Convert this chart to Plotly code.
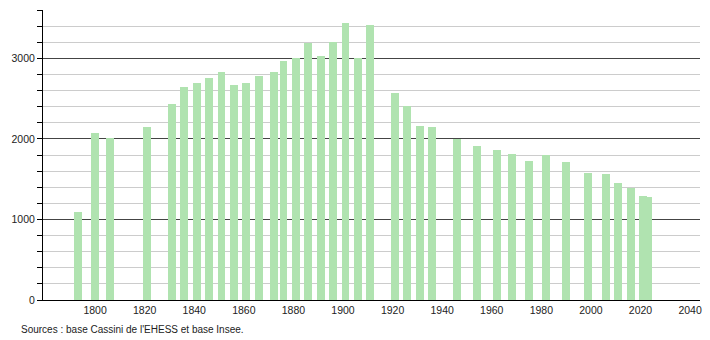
import plotly.graph_objects as go

years = [1793, 1800, 1806, 1821, 1831, 1836, 1841, 1846, 1851, 1856, 1861, 1866,
         1872, 1876, 1881, 1886, 1891, 1896, 1901, 1906, 1911, 1921, 1926, 1931,
         1936, 1946, 1954, 1962, 1968, 1975, 1982, 1990, 1999, 2006, 2011, 2016,
         2021, 2023]
population = [1097, 2074, 2016, 2149, 2431, 2646, 2696, 2758, 2832, 2671, 2692, 2783,
              2836, 2965, 3006, 3188, 3035, 3200, 3437, 3006, 3416, 2567, 2410, 2161,
              2149, 2000, 1913, 1859, 1814, 1723, 1797, 1714, 1575, 1565, 1450, 1385,
              1295, 1282]
x_ticks = [1800, 1820, 1840, 1860, 1880, 1900, 1920, 1940, 1960, 1980, 2000, 2020, 2040]
y_ticks = [0, 1000, 2000, 3000]
source_text = "Sources : base Cassini de l'EHESS et base Insee."

fig = go.Figure()
fig.add_trace(go.Bar(
    x=years, y=population, width=3.2,
    marker=dict(color="#b0e3b0", line=dict(width=0)),
    hoverinfo="x+y",
))

fig.update_layout(
    width=710, height=340,
    margin=dict(l=43, r=8, t=10, b=40),
    paper_bgcolor="white", plot_bgcolor="white",
    font=dict(family="Liberation Sans, Arial, sans-serif", size=11, color="#222"),
    showlegend=False,
    bargap=0,
    xaxis=dict(
        range=[1779, 2044],
        tickvals=x_ticks, ticktext=[str(v) for v in x_ticks],
        showgrid=False, zeroline=False,
        showline=True, linecolor="black", linewidth=1,
        ticks="", tickfont=dict(size=10.5, color="#222"),
    ),
    yaxis=dict(
        range=[0, 3600],
        tickvals=y_ticks, ticktext=[str(v) for v in y_ticks],
        showgrid=True, gridcolor="#444", gridwidth=1,
        zeroline=False,
        showline=True, linecolor="black", linewidth=1,
        ticks="outside", ticklen=5, tickcolor="black",
        tickfont=dict(size=10.5, color="#222"),
        minor=dict(dtick=200, tick0=0, showgrid=True, gridcolor="#cccccc",
                   gridwidth=1, ticks="outside", ticklen=5, tickcolor="black"),
        layer="below traces",
    ),
    annotations=[dict(
        text=source_text, xref="paper", yref="paper",
        x=-0.036, y=-0.075, xanchor="left", yanchor="top",
        showarrow=False, font=dict(size=10, color="#222"),
    )],
)

fig.write_html("out.html")
